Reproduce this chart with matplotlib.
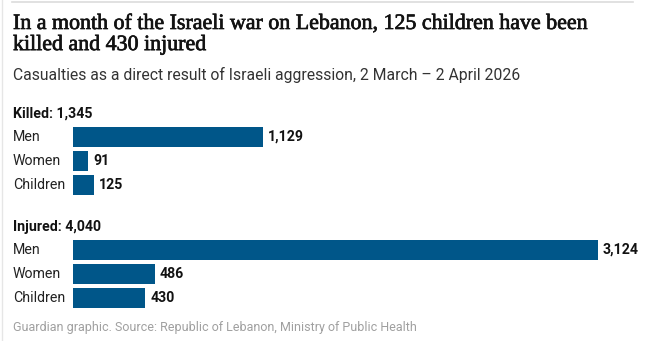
import matplotlib
matplotlib.use("Agg")
import matplotlib.pyplot as plt
import matplotlib.patheffects as pe
from matplotlib.lines import Line2D

categories = ["Men", "Women", "Children"]
killed = [1129, 91, 125]
injured = [3124, 486, 430]
killed_total = 1345
injured_total = 4040

title = "In a month of the Israeli war on Lebanon, 125 children have been\nkilled and 430 injured"
subtitle = "Casualties as a direct result of Israeli aggression, 2 March \u2013 2 April 2026"
source = "Guardian graphic. Source: Republic of Lebanon, Ministry of Public Health"

W, H = 650, 341
BLUE = "#005689"
INK = "#121212"
SANS = ["Roboto", "DejaVu Sans"]

fig = plt.figure(figsize=(W / 100, H / 100), dpi=100)
fig.patch.set_facecolor("white")


def fx(px):
    return px / W


def fy(px):
    return 1 - px / H


# frame lines (top rule, left rule)
fig.add_artist(Line2D([fx(12), fx(633)], [fy(1.5), fy(1.5)], color="#dcdcdc", lw=1.2))
fig.add_artist(Line2D([fx(2), fx(2)], [0, 1], color="#e6e6e6", lw=1.0))

# headline font is a medium-weight serif: regular Liberation Serif thickened a bit
fig.text(fx(13), fy(15), title, ha="left", va="top", fontsize=15.8,
         family=["Liberation Serif", "DejaVu Serif"], color=INK, linespacing=1.15,
         path_effects=[pe.withStroke(linewidth=0.5, foreground=INK)])
fig.text(fx(13), fy(75), subtitle, ha="left", va="center", fontsize=11.3,
         family=SANS, color="#333333")

bar_left = 73
bar_right = 598
xmax = max(injured)


def group(top_px, header, values):
    ax = fig.add_axes([fx(bar_left), fy(top_px + 72), fx(bar_right - bar_left), 72 / H])
    ax.barh(range(len(values)), values, height=20 / 24, color=BLUE)
    ax.set_xlim(0, xmax)
    ax.set_ylim(len(values) - 0.5, -0.5)
    ax.axis("off")
    for i, (c, v) in enumerate(zip(categories, values)):
        ax.annotate(f"{v:,}", (v, i), xytext=(3.5, 0), textcoords="offset points",
                    ha="left", va="center", fontsize=10.2, fontweight="bold",
                    family=SANS, color=INK)
        fig.text(fx(13), fy(top_px + 12 + 24 * i), c, ha="left", va="center",
                 fontsize=10.2, family=SANS, color="#222222")
    fig.text(fx(13), fy(top_px - 11), header, ha="left", va="center",
             fontsize=10.2, fontweight="bold", family=SANS, color=INK)


group(125, f"Killed: {killed_total:,}", killed)
group(238, f"Injured: {injured_total:,}", injured)

fig.text(fx(13), fy(327), source, ha="left", va="center", fontsize=9.0,
         family=SANS, color="#a0a0a0")

fig.savefig("out.png", dpi=100, facecolor="white")
